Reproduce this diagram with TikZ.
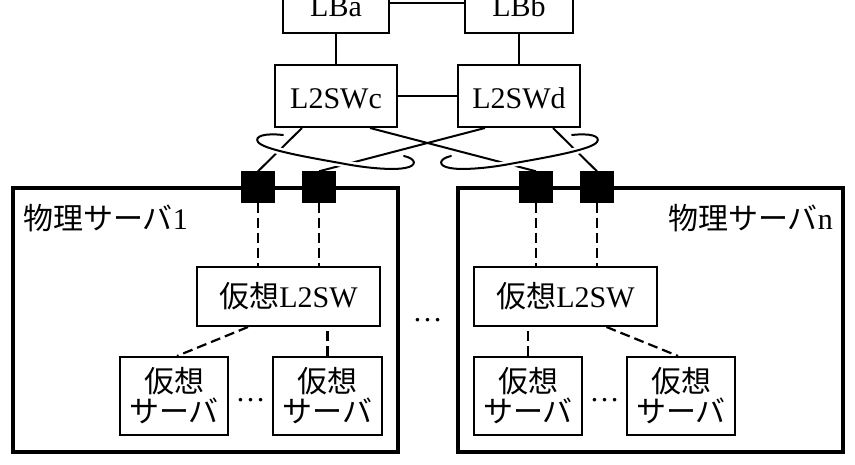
\documentclass[tikz,border=0pt]{standalone}
\usepackage{fontspec}
\setmainfont{Liberation Serif}
\newfontfamily\jp{Noto Sans CJK JP}
\begin{document}
\begin{tikzpicture}[x=1pt,y=-1pt,
  box/.style={draw, line width=2pt, rectangle, inner sep=0pt, font=\fontsize{30}{30}\selectfont},
  vsbox/.style={box, align=center, minimum height=78pt, font=\fontsize{30}{30}\selectfont\jp},
  phys/.style={draw, line width=4pt, rectangle, inner sep=0pt},
  port/.style={fill=black, draw=black, rectangle, minimum width=33pt, minimum height=31pt, inner sep=0pt},
  link/.style={line width=2pt},
  vlink/.style={line width=2.2pt, dash pattern=on 10pt off 5pt},
  lasso/.style={line width=2pt, line cap=round, preaction={draw=white, line width=7pt}},
  lbl/.style={inner sep=0pt, font=\fontsize{30}{30}\selectfont}]
\useasboundingbox (0,0) rectangle (855,465);
\clip (0,0) rectangle (855,465);
\fill[white] (0,0) rectangle (855,465);

% physical servers
\node[phys, minimum width=385pt, minimum height=264pt] (s1) at (205.5,320) {};
\node[phys, minimum width=385pt, minimum height=264pt] (sn) at (650,320) {};
\node[lbl, anchor=west] (s1l) at (23,218) {{\jp 物理サーバ}1};
\node[lbl, anchor=east] (snl) at (833,218) {{\jp 物理サーバ}n};

% top devices
\node[box, minimum width=106pt, minimum height=60pt, text height=28pt, text depth=0pt] (LBa) at (336,3) {LBa};
\node[box, minimum width=108pt, minimum height=60pt, text height=28pt, text depth=0pt] (LBb) at (519,3) {LBb};
\node[box, minimum width=122pt, minimum height=62pt, text height=26pt, text depth=0pt] (c) at (336,96) {L2SWc};
\node[box, minimum width=122pt, minimum height=62pt, text height=26pt, text depth=0pt] (d) at (519,96) {L2SWd};
\draw[link] (LBa.east) -- (LBb.west);
\draw[link] (LBa.south) -- (c.north);
\draw[link] (LBb.south) -- (d.north);
\draw[link] (c.east) -- (d.west);

% virtual switches and servers
\node[box, minimum width=183pt, minimum height=59pt] (v1) at (288.5,296.5) {{\jp 仮想}L2SW};
\node[box, minimum width=183pt, minimum height=59pt] (vn) at (565.5,296.5) {{\jp 仮想}L2SW};
\node[vsbox, minimum width=108pt] (a1) at (174,396) {仮想\\サーバ};
\node[vsbox, minimum width=109pt] (b1) at (327.5,396) {仮想\\サーバ};
\node[vsbox, minimum width=108pt] (an) at (528,396) {仮想\\サーバ};
\node[vsbox, minimum width=108pt] (bn) at (681,396) {仮想\\サーバ};
\node[lbl] (dot1) at (250.5,400) {…};
\node[lbl] (dotn) at (604.5,400) {…};
\node[lbl] (dotm) at (427.5,320) {…};

% ports
\node[port] (p11) at (258,187) {};
\node[port] (p12) at (319,187) {};
\node[port] (pn1) at (536,187) {};
\node[port] (pn2) at (597,187) {};

% dashed internal links
\draw[vlink] (p11.south) -- (p11.south |- v1.north);
\draw[vlink] (p12.south) -- (p12.south |- v1.north);
\draw[vlink] (pn1.south) -- (pn1.south |- vn.north);
\draw[vlink] (pn2.south) -- (pn2.south |- vn.north);
\draw[vlink] ([xshift=-40.5pt]v1.south) -- ([xshift=3pt]a1.north);
\draw[vlink] (b1.north) -- (b1.north |- v1.south);
\draw[vlink] (an.north) -- (an.north |- vn.south);
\draw[vlink] ([xshift=41pt]vn.south) -- ([xshift=-3pt]bn.north);

% uplinks
\draw[link] ([xshift=-34pt]c.south) -- (p11.north);
\draw[link] ([xshift=34pt]c.south) -- (pn1.north);
\draw[link] ([xshift=-34pt]d.south) -- (p12.north);
\draw[link] ([xshift=34pt]d.south) -- (pn2.north);

% lassos (link aggregation)
\draw[lasso] (283,135) .. controls (265,133) and (254,136) .. (258,142)
  .. controls (263,149) and (300,156) .. (340,163)
  .. controls (370,169) and (395,170) .. (405,168)
  .. controls (417,166) and (417,159) .. (404,156);
\draw[lasso] (572,135) .. controls (590,133) and (601,136) .. (597,142)
  .. controls (592,149) and (555,156) .. (515,163)
  .. controls (485,169) and (460,170) .. (450,168)
  .. controls (438,166) and (438,159) .. (451,156);

% redraw ports on top
\fill[black] (p11.south west) rectangle (p11.north east);
\fill[black] (p12.south west) rectangle (p12.north east);
\fill[black] (pn1.south west) rectangle (pn1.north east);
\fill[black] (pn2.south west) rectangle (pn2.north east);
\end{tikzpicture}
\end{document}
